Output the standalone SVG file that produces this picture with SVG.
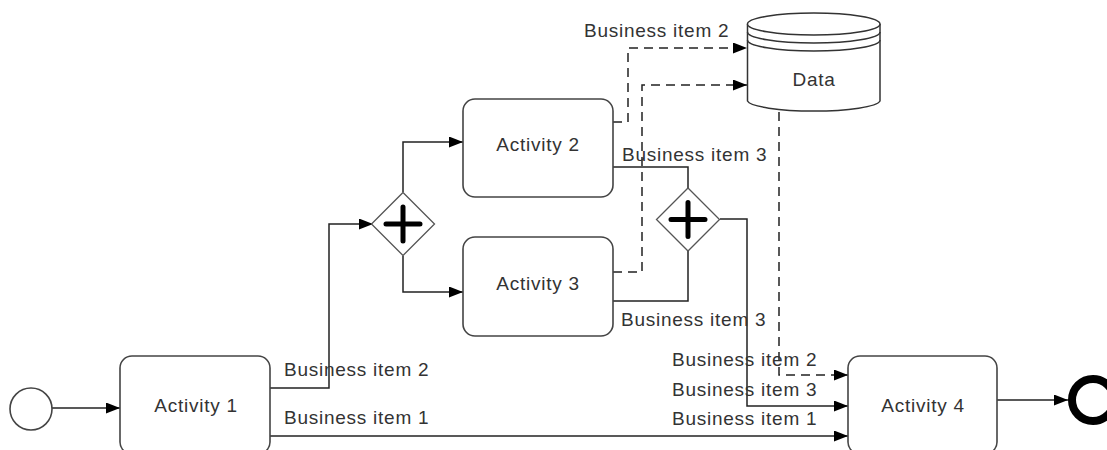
<svg xmlns="http://www.w3.org/2000/svg" width="1107" height="450" viewBox="0 0 1107 450">
<defs>
<marker id="arr" viewBox="0 0 14 11" refX="14" refY="5.5" markerWidth="14" markerHeight="11" markerUnits="userSpaceOnUse" orient="auto">
<path d="M0,0 L14,5.5 L0,11 Z" fill="#000"/>
</marker>
<style>
.task{fill:#fff;stroke:#444;stroke-width:1.6}
.gw{fill:#fff;stroke:#555;stroke-width:1.3}
.plus{stroke:#000;stroke-width:5;stroke-linecap:round}
.flow{fill:none;stroke:#222;stroke-width:1.5}
.data{fill:none;stroke:#222;stroke-width:1.5;stroke-dasharray:9 6}
.t{font-family:"Liberation Sans",Arial,sans-serif;font-size:19px;letter-spacing:0.75px;fill:#333}
.c{text-anchor:middle}
</style>
</defs>
<rect width="1107" height="450" fill="#fff"/>

<g id="connectors">
<path class="flow" d="M52,408 H120" marker-end="url(#arr)"/>
<path class="flow" d="M270,388 H329 V224 H373" marker-end="url(#arr)"/>
<path class="flow" d="M270,436 H848" marker-end="url(#arr)"/>
<path class="flow" d="M403,192 V142 H463" marker-end="url(#arr)"/>
<path class="flow" d="M403,256 V292 H463" marker-end="url(#arr)"/>
<path class="flow" d="M613,167 H688 V188"/>
<path class="flow" d="M613,301 H688 V251"/>
<path class="flow" d="M720,219 H747 V406 H848" marker-end="url(#arr)"/>
<path class="data" d="M613,122 H628 V48 H747" marker-end="url(#arr)"/>
<path class="data" d="M613,272 H642 V85 H747" marker-end="url(#arr)"/>
<path class="data" d="M779,112 V375 H848" marker-end="url(#arr)"/>
<path class="flow" d="M997,400 H1068" marker-end="url(#arr)"/>
<text class="t" x="584" y="37">Business item 2</text>
<text class="t" x="622" y="161">Business item 3</text>
<text class="t" x="621" y="326">Business item 3</text>
<text class="t" x="284" y="376">Business item 2</text>
<text class="t" x="284" y="424">Business item 1</text>
<text class="t" x="672" y="366">Business item 2</text>
<text class="t" x="672" y="396">Business item 3</text>
<text class="t" x="672" y="425">Business item 1</text>
</g>

<g id="start">
<circle cx="31" cy="409" r="21" fill="#fff" stroke="#444" stroke-width="1.6"/>
</g>

<g id="activity1">
<rect class="task" x="120" y="356" width="150" height="98" rx="12"/>
<text class="t c" x="196" y="412">Activity 1</text>
</g>

<g id="gateway1">
<path class="gw" d="M403,192.5 L434.5,224 L403,255.5 L371.5,224 Z"/>
<path class="plus" d="M386,224 H420 M403,207 V241"/>
</g>

<g id="activity2">
<rect class="task" x="463" y="99" width="150" height="98" rx="12"/>
<text class="t c" x="538" y="151">Activity 2</text>
</g>

<g id="activity3">
<rect class="task" x="463" y="237" width="150" height="99" rx="12"/>
<text class="t c" x="538" y="290">Activity 3</text>
</g>

<g id="gateway2">
<path class="gw" d="M688,188 L719.5,219.5 L688,251 L656.5,219.5 Z"/>
<path class="plus" d="M671,219.5 H705 M688,202.5 V236.5"/>
</g>

<g id="data">
<path d="M747.5,24 V101 A66.5,11 0 0 0 880,101 V24" fill="#fff" stroke="#333" stroke-width="1.5"/>
<ellipse cx="813.75" cy="24" rx="66.25" ry="11" fill="#fff" stroke="#333" stroke-width="1.5"/>
<path d="M747.5,32 A66.25,11 0 0 0 880,32 M747.5,40 A66.25,11 0 0 0 880,40" fill="none" stroke="#333" stroke-width="1.5"/>
<text class="t c" x="814" y="86">Data</text>
</g>

<g id="activity4">
<rect class="task" x="848" y="356" width="149" height="98" rx="12"/>
<text class="t c" x="923" y="412">Activity 4</text>
</g>

<g id="end">
<circle cx="1093" cy="400" r="21" fill="#fff" stroke="#000" stroke-width="8"/>
</g>
</svg>
